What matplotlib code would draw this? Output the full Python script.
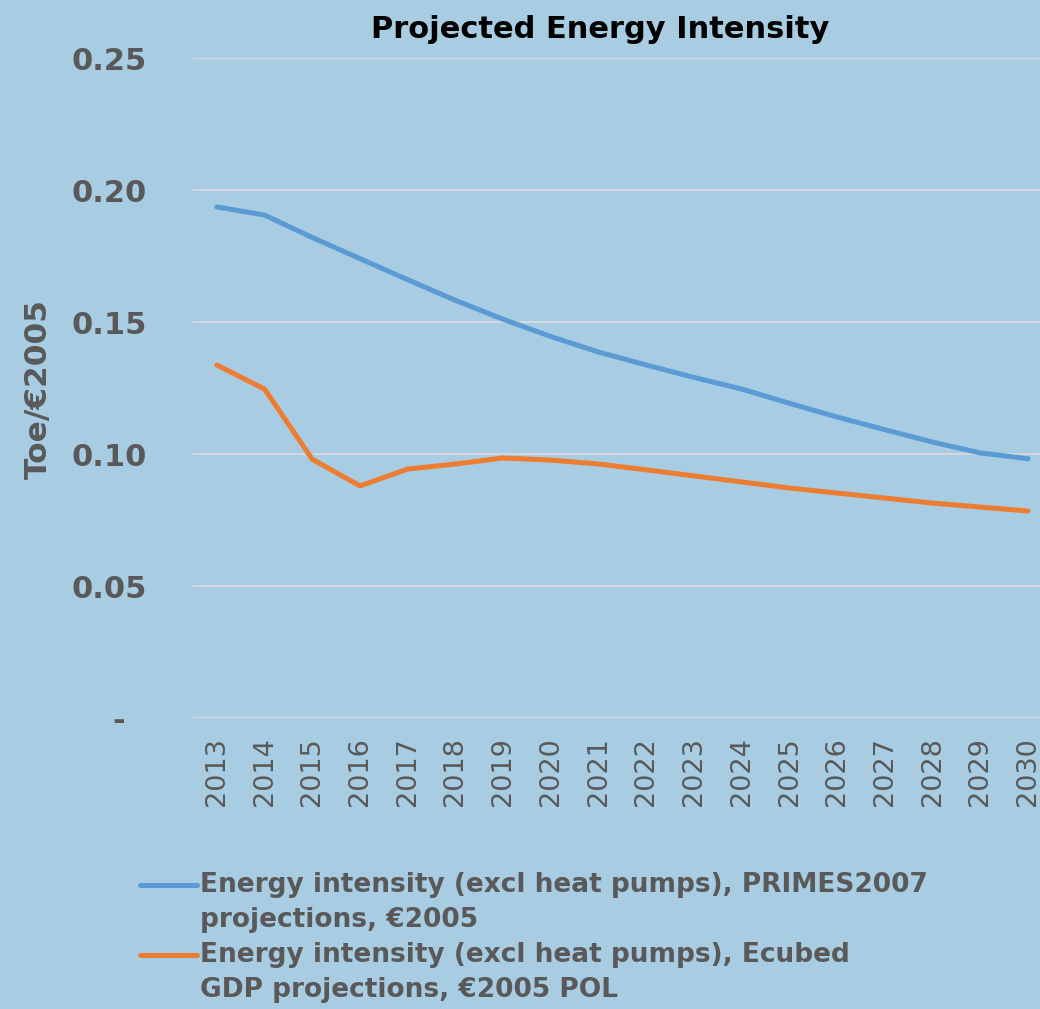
import matplotlib
matplotlib.use("Agg")
import matplotlib.pyplot as plt
from matplotlib.lines import Line2D
from matplotlib.ticker import FixedLocator, FuncFormatter

# ── Data ──────────────────────────────────────────────────────────────────────
YEARS = list(range(2013, 2031))

PRIMES = [0.1936, 0.1905, 0.1820, 0.1740, 0.1660, 0.1582, 0.1510, 0.1445,
          0.1386, 0.1337, 0.1290, 0.1246, 0.1192, 0.1140, 0.1092, 0.1045,
          0.1004, 0.0982]
ECUBED = [0.1337, 0.1246, 0.0980, 0.0879, 0.0943, 0.0962, 0.0985, 0.0977,
          0.0962, 0.0940, 0.0917, 0.0894, 0.0871, 0.0852, 0.0833, 0.0814,
          0.0799, 0.0784]

LABELS = [
    ["Energy intensity (excl heat pumps), PRIMES2007", "projections, €2005"],
    ["Energy intensity (excl heat pumps), Ecubed", "GDP projections, €2005 POL"],
]
Y_TICKS = [0.0, 0.05, 0.10, 0.15, 0.20, 0.25]

BG = "#A8CCE2"
GRID = "#D6D9DC"
TXT = "#595959"
BLUE = "#5B9BD5"
ORANGE = "#ED7D31"
W, H = 1040, 1009

# ── Figure ────────────────────────────────────────────────────────────────────
fig = plt.figure(figsize=(W / 100, H / 100), dpi=100, facecolor=BG)
ax = fig.add_axes([193 / W, 1 - 718 / H, (1052 - 193) / W, (718 - 58) / H])
ax.set_facecolor(BG)

ax.plot(YEARS, PRIMES, color=BLUE, lw=3.6, solid_capstyle="round", zorder=3)
ax.plot(YEARS, ECUBED, color=ORANGE, lw=3.6, solid_capstyle="round", zorder=3)

ax.set_xlim(2012.5, 2030.5)
ax.set_ylim(0, 0.25)
ax.yaxis.set_major_locator(FixedLocator(Y_TICKS))
ax.yaxis.set_major_formatter(FuncFormatter(
    lambda v, _: "-\u2007" if abs(v) < 1e-9 else f"{v:.2f}"))
ax.set_xticks(YEARS)
ax.set_xticklabels([str(y) for y in YEARS], rotation=90, fontsize=19.5,
                   color=TXT)
for lab in ax.get_yticklabels():
    lab.set_fontsize(22)
    lab.set_fontweight("bold")
    lab.set_color(TXT)
ax.tick_params(axis="y", length=0, pad=33)
ax.tick_params(axis="x", length=0, pad=14)

ax.yaxis.grid(True, color=GRID, lw=1.3, zorder=0)
ax.set_axisbelow(True)
for s in ax.spines.values():
    s.set_visible(False)

# ── Texts ─────────────────────────────────────────────────────────────────────
fig.text(600 / W, 1 - 30 / H, "Projected Energy Intensity", ha="center",
         va="center", fontsize=22, fontweight="bold", color="black")
fig.text(38 / W, 1 - 389 / H, "Toe/€2005", rotation=90, ha="center",
         va="center", fontsize=22.5, fontweight="bold", color=TXT)

# ── Legend (handle aligned to first text line) ────────────────────────────────
for color, lines, y0 in [(BLUE, LABELS[0], 885), (ORANGE, LABELS[1], 955)]:
    fig.add_artist(Line2D([140 / W, 197 / W], [1 - y0 / H, 1 - y0 / H],
                          color=color, lw=3.6, solid_capstyle="round"))
    for k, line in enumerate(lines):
        fig.text(200 / W, 1 - (y0 + 35 * k) / H, line, ha="left", va="center",
                 fontsize=19, fontweight="bold", color=TXT)

fig.savefig("out.png", dpi=100, facecolor=BG)
